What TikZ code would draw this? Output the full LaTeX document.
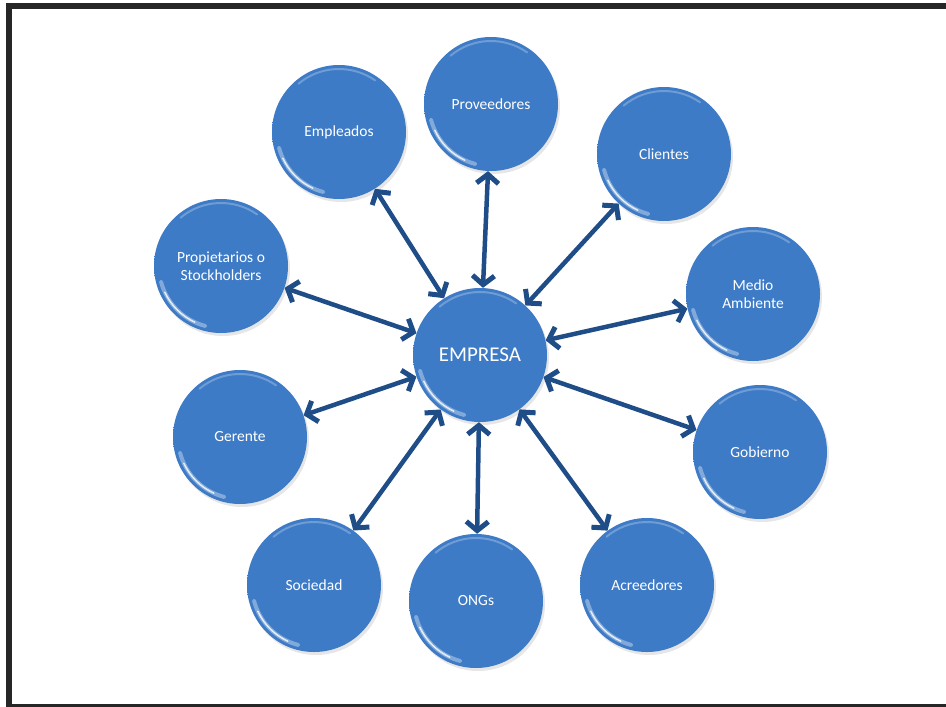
\documentclass[tikz,border=0pt]{standalone}
\usepackage{fontspec}
\setmainfont{Carlito}
\usetikzlibrary{arrows.meta,shadows}

\definecolor{bola}{RGB}{62,123,199}
\definecolor{bolaborde}{RGB}{32,80,148}
\definecolor{flecha}{RGB}{31,77,135}
\definecolor{marco}{RGB}{38,38,38}

% glossy button fill: light top, darker rim and bottom
\pgfdeclareradialshading{boton}{\pgfpoint{0bp}{8bp}}{%
    color(0bp)=(bola); color(28bp)=(bola); color(60bp)=(bolaborde)}

\begin{document}
\begin{tikzpicture}[x=1pt,y=-1pt,
        p/.style={circle, minimum size=134pt, inner sep=0pt,
                        shading=boton, text=white, align=center,
                        font=\fontsize{15.5}{18}\selectfont,
                        drop shadow={opacity=.2, shadow xshift=2pt, shadow yshift=-3pt},
                        path picture={
                            \draw[white, opacity=.35, line width=4pt, line cap=round]
                                ([shift={(195:62pt)}]path picture bounding box.center)
                                arc[start angle=195, end angle=255, radius=62pt];
                            \draw[white, opacity=.8, line width=1.5pt, line cap=round]
                                ([shift={(205:62pt)}]path picture bounding box.center)
                                arc[start angle=205, end angle=245, radius=62pt];
                            \draw[white, opacity=.25, line width=2pt, line cap=round]
                                ([shift={(55:63pt)}]path picture bounding box.center)
                                arc[start angle=55, end angle=130, radius=63pt];
                        }},
        c/.style={p, font=\fontsize{21}{25}\selectfont},
        a/.style={flecha, line width=4.5pt,
                        {Straight Barb[length=9pt,width=22pt,line width=5pt]}-{Straight Barb[length=9pt,width=22pt,line width=5pt]}}]
    \useasboundingbox (0,0) rectangle (946,707);
    \draw[marco, line width=6pt] (9,6) rectangle (960,707);

    \node[c] (emp) at (480,355) {EMPRESA};
    \node[p] (prov) at (491,104) {Proveedores};
    \node[p] (empl) at (339,132) {Empleados};
    \node[p] (cli) at (664,154) {Clientes};
    \node[p] (prop) at (221,266) {Propietarios o\\Stockholders};
    \node[p] (medio) at (753,294) {Medio\\Ambiente};
    \node[p] (ger) at (240,437) {Gerente};
    \node[p] (gob) at (760,452) {Gobierno};
    \node[p] (soc) at (314,585) {Sociedad};
    \node[p] (ong) at (476,601) {ONGs};
    \node[p] (acr) at (647,585) {Acreedores};

    \foreach \n in {prov,empl,cli,prop,medio,ger,gob,soc,ong,acr}
        \draw[a] (emp) -- (\n);
\end{tikzpicture}
\end{document}
